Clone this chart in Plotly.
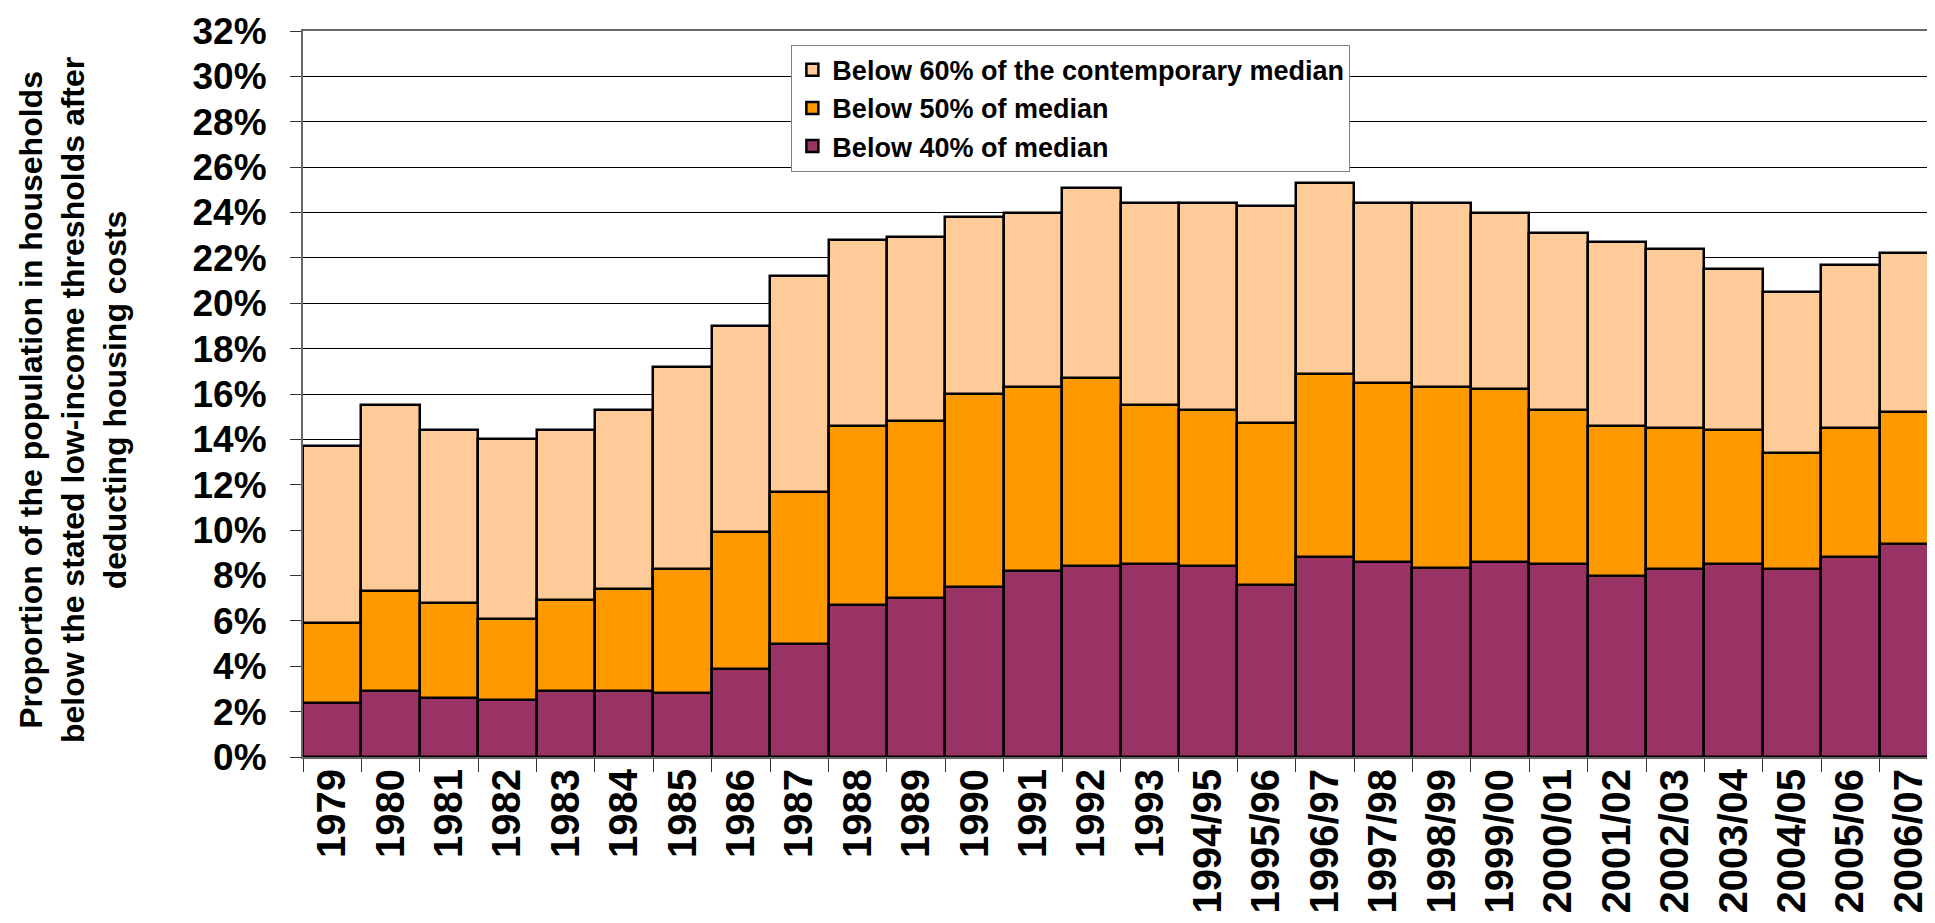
import plotly.graph_objects as go

years = ["1979", "1980", "1981", "1982", "1983", "1984", "1985", "1986", "1987", "1988",
         "1989", "1990", "1991", "1992", "1993", "1994/95", "1995/96", "1996/97", "1997/98",
         "1998/99", "1999/00", "2000/01", "2001/02", "2002/03", "2003/04", "2004/05",
         "2005/06", "2006/07"]

below60 = [13.7, 15.5, 14.4, 14.0, 14.4, 15.3, 17.2, 19.0, 21.2, 22.8,
           22.9, 23.8, 24.0, 25.1, 24.4, 24.4, 24.3, 25.3, 24.4,
           24.4, 24.0, 23.1, 22.7, 22.4, 21.5, 20.5, 21.7, 22.2]
below50 = [5.9, 7.3, 6.8, 6.1, 6.9, 7.4, 8.3, 9.9, 11.7, 14.6,
           14.8, 16.0, 16.3, 16.7, 15.5, 15.3, 14.7, 16.9, 16.5,
           16.3, 16.2, 15.3, 14.6, 14.5, 14.4, 13.4, 14.5, 15.2]
below40 = [2.4, 2.9, 2.6, 2.5, 2.9, 2.9, 2.8, 3.9, 5.0, 6.7,
           7.0, 7.5, 8.2, 8.4, 8.5, 8.4, 7.6, 8.8, 8.6,
           8.35, 8.6, 8.5, 8.0, 8.3, 8.5, 8.3, 8.8, 9.4]

series = [
    ("Below 60% of the contemporary median", below60, "#FFCC99"),
    ("Below 50% of median", below50, "#FF9900"),
    ("Below 40% of median", below40, "#993366"),
]

FONT = "Liberation Sans, Arial, sans-serif"

fig = go.Figure()
for name, vals, col in series:
    fig.add_trace(go.Bar(
        x=years, y=vals, name=name,
        marker=dict(color=col, line=dict(color="black", width=2.5)),
    ))

fig.update_layout(
    width=1935, height=923,
    barmode="overlay", bargap=0,
    plot_bgcolor="white", paper_bgcolor="white",
    margin=dict(l=295, r=3, t=19, b=174),
    font=dict(family=FONT, color="black"),
    showlegend=True,
    legend=dict(
        x=0.2987, y=0.981, xanchor="left", yanchor="top",
        bgcolor="white", bordercolor="#808080", borderwidth=1,
        font=dict(family=FONT, size=27, color="black", weight="bold"),
        traceorder="normal", itemwidth=30, tracegroupgap=0,
        entrywidth=620, entrywidthmode="pixels",
    ),
    xaxis=dict(
        type="category", tickangle=-90,
        tickfont=dict(family=FONT, size=40, color="black", weight="bold"),
        ticks="outside", tickson="boundaries", ticklen=13, tickcolor="#333",
        showline=True, linecolor="#666", linewidth=2, mirror=True,
        showgrid=False, ticklabelstandoff=-6,
    ),
    yaxis=dict(
        range=[0, 32], tickvals=list(range(0, 33, 2)),
        ticktext=[f"{v}%" for v in range(0, 33, 2)],
        tickfont=dict(family=FONT, size=37, color="black", weight="bold"),
        ticks="outside", ticklen=11, tickcolor="#333",
        showline=True, linecolor="#666", linewidth=2, mirror=True,
        showgrid=True, gridcolor="black", gridwidth=1,
        zeroline=False, ticklabelstandoff=16, ticklabeloverflow="allow",
    ),
    annotations=[dict(
        text="Proportion of the population in households<br>below the stated low-income thresholds after<br>deducting housing costs",
        xref="paper", yref="paper", x=-0.1405, y=0.492,
        xanchor="center", yanchor="middle", textangle=-90, showarrow=False,
        align="center",
        font=dict(family=FONT, size=32, color="black", weight="bold"),
    )],
)

fig.write_html("out.html")
